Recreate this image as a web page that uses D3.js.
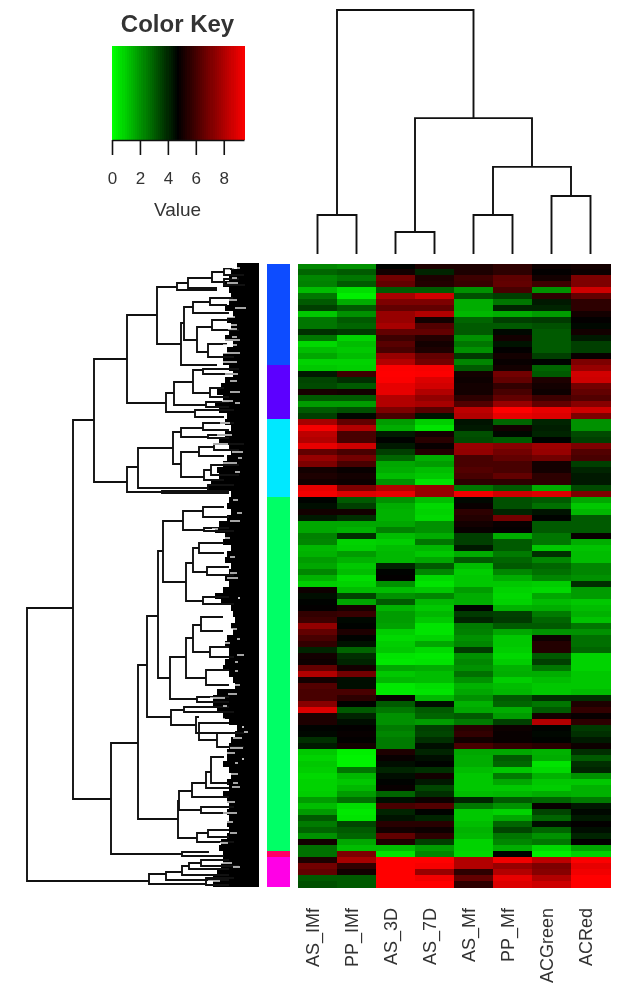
<!DOCTYPE html>
<html><head><meta charset="utf-8">
<script src="https://cdnjs.cloudflare.com/ajax/libs/d3/7.8.5/d3.min.js"></script>
<style>html,body{margin:0;padding:0;background:#fff}svg{display:block;filter:blur(.55px)}text{font-family:"Liberation Sans",Arial,sans-serif;fill:#333}</style>
</head><body><svg id="c" width="625" height="1008"></svg>
<script>
const columns = ["AS_IMf","PP_IMf","AS_3D","AS_7D","AS_Mf","PP_Mf","ACGreen","ACRed"];
const keyTicks = [0,2,4,6,8];
const clusterColors = ["#0d4cff","#5c00ff","#00e8ff","#00ff66","#ff0066","#ff00e6"];
const clusterSizes = [17,9,13,59,1,5];
const cells = [
[2.2,2.0,4.6,5.2,5.2,5.5,4.9,5.0],[2.8,3.0,5.0,4.0,5.2,5.5,4.7,4.9],[2.2,2.5,6.8,5.2,5.8,6.4,5.0,7.0],[2.3,3.0,6.5,5.3,5.7,6.5,5.8,7.0],
[1.2,0.6,3.0,3.0,2.0,6.0,2.0,8.5],[2.5,0.3,7.8,8.5,3.2,3.5,5.5,6.5],[3.0,1.5,7.0,7.0,1.5,2.5,4.2,5.5],[3.5,3.0,6.5,6.5,1.5,4.0,4.0,5.5],
[1.0,2.0,7.5,8.0,1.3,1.5,1.8,5.0],[2.5,3.0,7.5,5.0,2.8,3.5,3.6,4.7],[2.5,2.8,7.8,6.2,3.0,3.0,3.2,4.5],[3.8,3.6,6.5,6.5,3.0,4.5,3.0,5.0],
[2.5,0.8,5.8,5.3,2.0,5.0,3.0,4.2],[0.7,1.2,6.3,5.0,2.5,4.3,3.0,3.5],[1.2,1.0,6.0,5.2,2.0,4.7,3.0,3.5],[1.6,1.2,7.5,6.5,3.6,5.0,3.5,4.8],
[0.8,0.8,8.0,6.8,2.2,4.8,4.6,7.0],[1.0,0.9,9.4,9.3,3.0,5.0,2.8,7.5],[4.2,5.8,9.5,9.4,5.0,6.8,3.0,8.6],[3.4,3.8,9.4,8.8,4.9,6.5,5.2,8.5],
[3.3,3.0,9.0,8.6,5.0,5.6,5.0,6.8],[5.1,5.0,9.0,8.0,5.0,6.0,4.9,6.5],[3.0,3.0,8.0,7.4,5.5,6.5,5.8,6.2],[1.8,1.8,8.0,7.8,6.2,7.5,6.5,7.2],
[3.0,3.2,7.0,6.3,8.2,9.5,9.0,8.5],[3.5,4.5,6.0,4.3,8.0,9.0,8.8,7.0],[7.8,6.5,1.8,0.9,4.3,2.8,4.0,2.0],[9.3,8.0,1.5,0.5,4.2,5.0,4.1,2.0],
[8.2,6.0,4.2,5.0,3.2,4.5,4.0,3.3],[8.0,6.0,4.6,5.4,3.3,3.0,4.6,3.5],[9.0,8.5,4.2,4.8,7.5,7.2,7.6,7.0],[6.5,6.0,3.5,5.3,7.4,6.8,7.5,6.2],
[7.5,6.8,2.8,1.5,6.0,6.5,6.8,6.0],[7.0,6.0,1.6,1.8,6.0,6.0,5.0,3.5],[5.0,4.8,1.5,1.2,6.2,6.0,5.0,4.0],[5.2,5.0,1.2,1.0,6.0,6.5,5.5,4.2],
[5.0,4.9,2.0,0.5,5.5,5.5,5.5,4.2],[9.0,7.0,8.0,7.5,2.5,3.0,1.5,3.3],[9.2,8.8,9.0,7.5,9.2,8.5,8.8,7.0],
[4.6,3.0,2.0,1.2,4.5,3.2,3.0,1.6],[4.4,3.5,1.5,0.7,4.8,3.2,2.6,1.0],[5.0,5.0,1.4,0.8,5.5,4.0,4.3,1.3],[4.2,3.8,1.4,0.7,5.3,6.8,4.6,3.0],
[1.6,1.6,1.6,2.0,5.0,4.8,3.0,3.0],[1.6,1.4,2.3,2.0,4.8,4.7,3.0,3.0],[2.3,3.8,1.2,1.5,3.5,1.5,2.5,4.8],[2.2,0.8,0.9,2.5,3.5,3.0,2.5,1.5],
[1.3,0.9,1.2,1.3,4.2,3.0,1.0,1.1],[1.4,1.8,1.3,1.0,1.5,2.4,3.8,1.2],[1.8,1.4,1.3,1.6,3.0,2.8,2.2,1.2],[1.6,1.0,4.0,3.0,1.2,3.0,2.8,2.2],
[2.2,1.2,4.6,2.2,0.9,2.2,2.6,2.2],[1.4,0.6,4.7,0.7,1.0,1.5,2.2,2.0],[0.9,0.8,2.0,0.5,1.0,1.0,0.9,3.8],[4.9,1.2,1.2,1.0,1.8,0.8,0.7,1.8],
[4.4,3.4,2.0,2.2,1.5,0.7,1.6,1.8],[4.6,1.6,3.0,1.3,1.5,0.8,1.2,1.0],[4.7,5.1,1.4,1.0,4.6,1.4,1.5,1.2],[5.6,5.7,1.8,1.3,3.6,3.5,2.4,1.4],
[5.8,4.5,1.8,1.0,4.0,3.6,2.8,1.1],[7.4,4.6,1.7,0.5,2.4,3.0,3.0,2.5],[6.5,5.2,0.9,0.5,2.3,1.6,2.0,2.0],[6.0,4.6,0.7,0.8,2.0,1.0,4.9,2.6],
[5.6,4.3,0.9,1.6,2.2,1.0,5.3,2.6],[4.0,2.8,1.0,0.7,3.6,0.9,5.3,2.8],[5.0,3.8,0.5,0.4,2.0,0.7,3.0,0.8],[4.9,4.0,0.4,0.5,2.2,0.9,3.5,0.8],
[6.5,5.0,1.6,1.5,2.0,1.4,2.5,0.8],[8.0,6.8,1.0,1.2,2.6,1.5,1.5,1.0],[5.0,4.4,1.3,1.2,2.0,0.9,1.2,1.0],[6.2,4.4,0.4,0.6,1.4,1.2,1.0,1.0],
[6.0,6.0,0.4,0.5,1.6,1.3,1.0,1.2],
[6.0,5.5,4.8,1.3,2.0,3.0,3.8,3.8],[7.2,4.6,3.0,4.4,1.4,2.8,2.5,5.2],[8.8,3.0,2.5,3.0,1.6,1.5,3.0,5.6],[5.2,4.0,2.0,2.8,3.0,1.8,5.0,4.8],
[5.2,4.4,2.0,1.8,2.4,3.5,8.0,5.5],[4.6,4.7,2.4,3.5,5.4,4.9,4.6,3.6],[4.5,4.8,2.2,3.4,5.6,4.8,4.5,3.8],[3.8,4.7,2.4,3.8,5.0,4.8,4.6,4.2],
[4.2,5.0,2.4,4.4,6.0,5.6,5.4,4.9],[1.0,0.3,5.2,4.0,1.6,1.6,1.4,3.8],[0.8,0.2,4.8,4.4,1.5,3.0,1.5,3.0],[1.0,0.2,4.4,4.6,1.5,2.8,0.5,3.8],
[0.9,2.5,4.0,3.8,1.2,1.0,0.7,4.0],[0.7,1.3,4.4,5.0,1.0,2.4,1.4,2.0],[0.8,1.0,4.6,4.2,1.0,1.6,1.0,1.0],[0.8,1.3,4.8,3.4,1.0,1.0,0.9,1.4],
[0.9,1.8,2.8,3.8,1.2,1.3,1.5,1.4],[1.8,2.6,4.4,4.9,4.0,3.0,2.8,2.4],[1.2,0.6,6.0,6.2,2.5,2.0,4.8,4.2],[1.8,0.4,4.0,4.6,1.0,0.8,3.4,4.5],
[3.0,0.5,4.3,4.0,1.0,1.6,2.8,4.2],[2.4,3.4,5.4,5.4,1.2,2.8,4.4,4.7],[2.8,3.0,5.0,4.9,1.4,3.4,2.8,4.4],[2.0,2.8,6.5,5.5,1.3,2.5,2.0,4.0],
[5.0,1.6,5.2,3.5,0.8,2.2,2.5,4.7],[2.6,1.2,1.2,1.8,0.8,1.5,0.7,1.6],[2.6,7.0,0.5,2.2,0.7,4.6,0.3,0.8],[5.2,7.8,9.5,9.5,8.0,9.2,8.2,9.4],
[6.8,5.6,9.5,9.3,8.0,7.5,7.0,9.0],[6.5,5.0,9.5,7.5,5.5,8.0,7.2,9.2],[3.0,3.0,9.5,9.2,6.5,9.0,8.0,9.5],[3.2,3.0,9.5,9.5,5.5,8.8,8.5,9.5]
];
// column dendrogram: [height, left leaf pos, right leaf pos, left end height, right end height]
const colMerges = [[16,0,1,0,0],[9,2,3,0,0],[16,4,5,0,0],[23.8,6,7,0,0],[35.7,4.5,6.5,16,23.8],[55.7,2.5,5.5,9,35.7],[100,0.5,4,16,55.7]];
// row dendrogram: [height, top rank, bottom rank, top end height, bottom end height]
const rowMerges = [
[232,345,618,186,110],[186,157,536,165,148],[165,96,219,132,132],[132,52,140,102,93],[102,24,81,82,78],
[82,20,27,71,42],[71,15,25,47,42],[47,9,19,35,35],[35,6,12,25,15],[35,16,22,20,14],
[78,60,102,75,42],[75,44,77,66,62],[66,39,50,49,30],[49,35,42,26,32],[62,64,89,47,51],[47,57,67,30,20],[51,81,94,32,25],
[93,130,149,85,64],[85,119,142,66,53],[66,107,130,56,49],[56,106,111,20,25],[49,125,134,35,30],[53,139,144,30,30],[64,147,154,25,35],
[132,204,229,121,97],[121,185,225,86,51],[86,169,201,78,78],[78,165,174,56,51],[56,160,167,25,30],[51,172,175,30,30],
[78,189,214,60,55],[60,184,193,45,35],[45,181,187,15,20],[55,207,217,48,35],[48,202,212,20,20],[51,222,228,25,30],[97,228,230,30,30],
[148,480,591,121,77],[121,402,556,112,81],[112,353,454,101,88],[101,288,415,96,89],[96,258,319,76,73],
[76,248,267,56,55],[56,244,254,35,30],[55,265,268,30,25],[73,300,338,66,56],[66,285,309,60,52],[60,280,290,35,35],[52,304,312,30,25],[56,334,341,30,25],
[89,394,436,73,62],[73,375,415,66,53],[66,362,389,58,49],[58,354,368,36,36],[49,384,394,30,25],[53,407,422,30,30],[62,434,439,30,30],
[88,447,462,75,63],[75,444,449,30,25],[63,454,470,60,42],[60,460,477,30,42],[42,470,484,15,15],
[81,538,575,80,62],[80,528,547,67,58],[67,520,534,53,30],[53,509,525,48,30],[48,494,520,35,30],[58,544,550,25,30],[62,570,579,51,25],[51,567,574,30,30],
[77,589,593,50,35],
[110,611,621,93,53],[93,609,617,77,30],[77,603,612,70,30],[70,600,606,58,30],[58,597,603,30,20],[53,615,622,25,30]
];
// left edge of the dense leaf mass, one height every 6 ranks
const massEdge = [24,22,28,30,36,30,28,30,34,26,32,28,30,34,26,32,36,36,30,26,34,38,42,36,44,40,32,34,28,34,40,30,28,32,36,42,40,48,52,28,30,32,28,32,40,44,34,36,28,32,34,28,30,34,30,36,44,38,28,26,24,28,26,32,34,30,30,34,36,30,26,24,42,46,46,42,36,30,22,24,28,30,32,32,36,30,28,32,30,36,32,30,32,30,32,30,32,38,40,36,36,38,42,46,46];
// light gaps inside the mass: [rank, from height, to height]
const massGaps = [[5,27,19],[7,34,29],[15,27,22],[20,32,21],[37,32,22],[45,24,13],[54,39,24],[62,29,22],[66,31,22],[74,27,22],[77,36,19],[82,36,22],[90,36,19],[99,36,22],[111,34,21],[118,29,22],[129,29,19],[138,37,26],[140,24,19],[160,39,29],[172,42,27],[181,51,31],[189,27,16],[195,21,17],[200,36,22],[209,24,19],[237,26,21],[250,22,17],[258,29,19],[266,47,41],[275,36,29],[285,37,29],[294,29,24],[310,29,22],[315,32,21],[335,21,19],[349,34,26],[366,36,22],[376,22,19],[380,34,29],[392,22,15],[399,24,21],[408,24,21],[422,26,19],[431,31,22],[435,49,34],[443,36,32],[456,39,34],[464,17,15],[469,15,11],[475,26,17],[485,29,16],[490,36,24],[496,17,15],[500,24,21],[511,34,21],[520,26,21],[524,27,19],[539,37,24],[550,36,22],[559,32,26],[570,29,22],[580,39,31],[591,76,37],[600,39,27],[604,26,19],[618,51,39]];

const svg = d3.select("#c");
const color = d3.scaleLinear().domain([0,4.65,9.45]).range(["#00ff00","#000000","#ff0000"]).clamp(true);
const xCol = d3.scaleBand().domain(columns).range([298,610]);
const yRow = d3.scaleBand().domain(d3.range(cells.length)).range([263.5,887]);

// heat map
const heat = svg.append("g").attr("shape-rendering","crispEdges").style("filter","blur(.7px)");
heat.selectAll("g").data(cells).join("g").each(function(row,i){
  d3.select(this).selectAll("rect").data(row).join("rect")
    .attr("x",(d,j)=>xCol(columns[j])).attr("y",yRow(i))
    .attr("width",xCol.bandwidth()+.5).attr("height",yRow.bandwidth()+.5)
    .attr("fill",d=>color(d));
});

// side colour bar
let start = 0;
const spans = clusterSizes.map((n,k)=>{const s={k,start,n}; start+=n; return s;});
svg.append("g").attr("shape-rendering","crispEdges").selectAll("rect").data(spans).join("rect")
  .attr("x",267).attr("width",23)
  .attr("y",d=>yRow(d.start)).attr("height",d=>yRow.bandwidth()*d.n)
  .attr("fill",d=>clusterColors[d.k]);

// colour key
const keyX = d3.scaleLinear().domain([0,9.45]).range([112,244]);
const keySteps = d3.range(0,9.45,0.15);
svg.append("g").attr("shape-rendering","crispEdges").selectAll("rect").data(keySteps).join("rect")
  .attr("x",d=>keyX(d)).attr("width",d=>keyX(Math.min(d+0.15,9.45))-keyX(d)+.5)
  .attr("y",46).attr("height",94).attr("fill",d=>color(d));
const keyAxis = svg.append("g").attr("transform","translate(0,140)")
  .call(d3.axisBottom(keyX).tickValues(keyTicks).tickSize(15).tickPadding(17).tickSizeOuter(0));
keyAxis.select(".domain").attr("stroke","#111").attr("stroke-width",1.6);
keyAxis.selectAll("line").attr("stroke","#111").attr("stroke-width",1.6);
keyAxis.attr("font-family",null);
keyAxis.selectAll("text").attr("font-size",17).style("fill","#333");
svg.append("text").attr("x",177.5).attr("y",32).attr("text-anchor","middle").attr("font-size",24).attr("font-weight","bold").text("Color Key");
svg.append("text").attr("x",177.5).attr("y",216).attr("text-anchor","middle").attr("font-size",19).text("Value");

// column labels
svg.append("g").selectAll("text").data(columns).join("text")
  .attr("transform",d=>`translate(${xCol(d)+xCol.bandwidth()/2+1},908) rotate(-90)`)
  .attr("text-anchor","end").attr("font-size",18).text(d=>d);

// column dendrogram
const colPos = d3.scaleLinear().domain([0,7]).range([xCol(columns[0])+xCol.bandwidth()/2,xCol(columns[7])+xCol.bandwidth()/2]);
const colH = d3.scaleLinear().domain([0,100]).range([254,10]);
const colPath = colMerges.map(([h,a,b,ea,eb])=>`M${colPos(a)},${colH(ea)}V${colH(h)}H${colPos(b)}V${colH(eb)}`).join("");
svg.append("path").attr("d",colPath).attr("fill","none").attr("stroke","#111").attr("stroke-width",1.9);

// row dendrogram
const rowH = d3.scaleLinear().domain([0,231]).range([259,28]);
const rowR = d3.scaleLinear().domain([0,624]).range([263,887]);
const mass = d3.area().curve(d3.curveStepAfter).x0(d=>rowH(d)).x1(rowH(0)).y((d,i)=>rowR(i*6));
svg.append("path").attr("d",mass(massEdge)).attr("fill","#000");
const rowPath = rowMerges.map(([h,a,b,ea,eb])=>`M${rowH(ea)},${rowR(a)}H${rowH(h)}V${rowR(b)}H${rowH(eb)}`).join("");
svg.append("path").attr("d",rowPath).attr("fill","none").attr("stroke","#111").attr("stroke-width",1.9);
svg.append("g").selectAll("line").data(massGaps).join("line")
  .attr("x1",d=>rowH(d[1])).attr("x2",d=>rowH(d[2]))
  .attr("y1",d=>rowR(d[0])).attr("y2",d=>rowR(d[0]))
  .attr("stroke","#fff").attr("stroke-width",1.3);
</script></body></html>
